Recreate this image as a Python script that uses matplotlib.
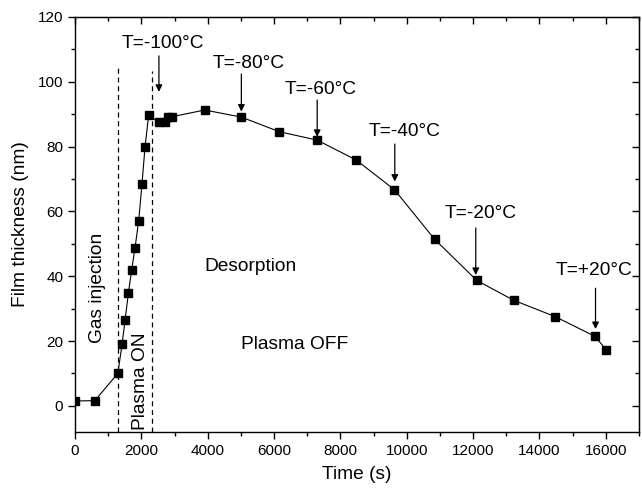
import numpy as np
import matplotlib
matplotlib.use("Agg")
import matplotlib.pyplot as plt
from matplotlib.ticker import MultipleLocator

plt.rcParams["font.family"] = ["Liberation Sans", "DejaVu Sans"]

#------------------------------------ film thickness vs. time
time_s = [0, 600, 1290, 1420, 1510, 1610, 1710, 1810, 1920, 2020,
          2110, 2220, 2530, 2710, 2800, 2920, 3910, 5015, 6160, 7300,
          8470, 9630, 10840, 12110, 13220, 14480, 15680, 16010]
thick_nm = [1.5, 1.6, 10.0, 19.0, 26.5, 34.8, 42.0, 48.8, 57.1, 68.5,
            79.8, 89.6, 87.5, 87.5, 89.2, 89.2, 91.3, 89.1, 84.6, 82.0,
            75.9, 66.7, 51.4, 38.7, 32.6, 27.5, 21.4, 17.3]

# temperature labels: text, arrow x, text (x, y), arrow top, arrow tip
temp_labels = ["T=-100\u00b0C", "T=-80\u00b0C", "T=-60\u00b0C",
               "T=-40\u00b0C", "T=-20\u00b0C", "T=+20\u00b0C"]
temp_xarrow = [2530, 5015, 7300, 9640, 12080, 15690]
temp_xtext = [2660, 5230, 7390, 9920, 12240, 15630]
temp_ytext = [111.7, 105.7, 97.5, 84.6, 59.4, 41.7]
temp_ytop = [108.0, 102.4, 94.4, 80.8, 54.9, 36.3]
temp_ytip = [96.9, 90.8, 83.0, 69.2, 40.4, 23.7]

# phase boundaries (dashed)
phase_x = [1286, 2321]
phase_ytop = [104.7, 103.4]

FS = 13.8   # annotation / label size

fig = plt.figure(figsize=(6.42, 4.94), dpi=100)
axi = fig.add_axes([0.1168, 0.126, 0.8785, 0.8396])

axi.plot(time_s, thick_nm, color="k", linewidth=0.8, marker="s",
         markersize=6, markerfacecolor="k", markeredgecolor="k", zorder=3)

for xv, yt in zip(phase_x, phase_ytop):
    axi.plot([xv, xv], [-8, yt], color="k", linestyle=(0, (4, 3)),
             linewidth=0.9, zorder=2)

for lab, xa, xt, yt, y0, y1 in zip(temp_labels, temp_xarrow, temp_xtext,
                                   temp_ytext, temp_ytop, temp_ytip):
    axi.text(xt, yt, lab, ha="center", va="center", fontsize=FS)
    axi.annotate("", xy=(xa, y1), xytext=(xa, y0),
                 arrowprops=dict(arrowstyle="-|>", color="k", lw=0.9,
                                 mutation_scale=10, shrinkA=0, shrinkB=0))

axi.text(690, 36.5, "Gas injection", rotation=90, ha="center",
         va="center", fontsize=FS)
axi.text(1960, 7.5, "Plasma ON", rotation=90, ha="center",
         va="center", fontsize=FS)
axi.text(5300, 43, "Desorption", ha="center", va="center", fontsize=FS)
axi.text(6630, 19, "Plasma OFF", ha="center", va="center", fontsize=FS)

axi.set_xlim(0, 17000)
axi.set_ylim(-8, 120)
axi.xaxis.set_major_locator(MultipleLocator(2000))
axi.xaxis.set_minor_locator(MultipleLocator(1000))
axi.yaxis.set_major_locator(MultipleLocator(20))
axi.yaxis.set_minor_locator(MultipleLocator(10))

axi.tick_params(which="both", direction="out", top=False, right=False,
                labelsize=11, width=1.0)
axi.tick_params(which="major", length=5)
axi.tick_params(which="minor", length=3)
for sp in axi.spines.values():
    sp.set_linewidth(1.0)

# mirrored inward ticks on top and right
top = axi.secondary_xaxis("top")
top.xaxis.set_major_locator(MultipleLocator(2000))
top.xaxis.set_minor_locator(MultipleLocator(1000))
top.tick_params(which="both", direction="in", labeltop=False, width=1.0)
top.tick_params(which="major", length=5)
top.tick_params(which="minor", length=3)
rgt = axi.secondary_yaxis("right")
rgt.yaxis.set_major_locator(MultipleLocator(20))
rgt.yaxis.set_minor_locator(MultipleLocator(10))
rgt.tick_params(which="both", direction="in", labelright=False, width=1.0)
rgt.tick_params(which="major", length=5)
rgt.tick_params(which="minor", length=3)

axi.set_xlabel("Time (s)", fontsize=FS, labelpad=6)
axi.set_ylabel("Film thickness (nm)", fontsize=FS, labelpad=6)

fig.savefig("out.png", dpi=100)
